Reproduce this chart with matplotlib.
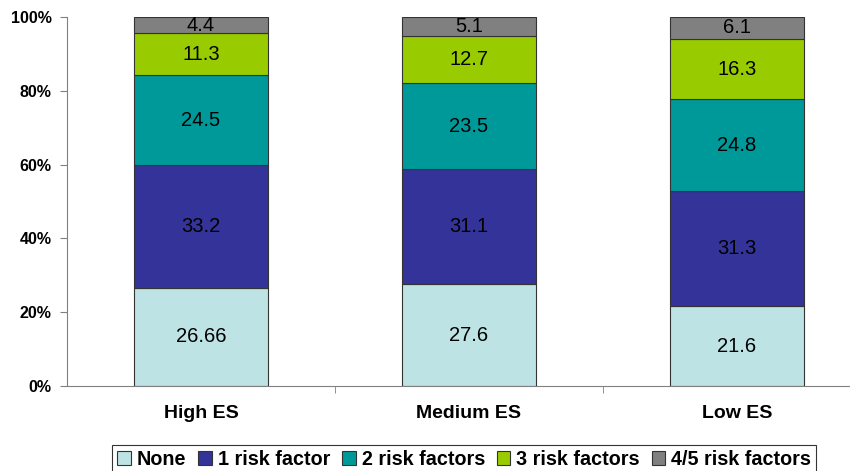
import numpy as np
import matplotlib.pyplot as plt
from matplotlib.ticker import FixedLocator, PercentFormatter

plt.rcParams['font.family'] = ['Liberation Sans', 'DejaVu Sans']

# Share of people by number of risk factors, per ES group
groups = ['High ES', 'Medium ES', 'Low ES']
series = ['None', '1 risk factor', '2 risk factors', '3 risk factors', '4/5 risk factors']
none = [26.6, 27.6, 21.6]
one_rf = [33.2, 31.1, 31.3]
two_rf = [24.5, 23.5, 24.8]
three_rf = [11.3, 12.7, 16.3]
four_five_rf = [4.4, 5.1, 6.1]
values = [none, one_rf, two_rf, three_rf, four_five_rf]
# printed labels (the first one appears with a stray digit)
labels = [['26.66', '27.6', '21.6'],
          ['33.2', '31.1', '31.3'],
          ['24.5', '23.5', '24.8'],
          ['11.3', '12.7', '16.3'],
          ['4.4', '5.1', '6.1']]
colors = ['#BDE3E5', '#333399', '#009999', '#99CC00', '#808080']

fig = plt.figure(figsize=(8.5, 4.71), dpi=100)
ax = fig.add_axes([0.0788, 0.1805, 0.93, 0.7834])

x = np.arange(len(groups))
bottom = np.zeros(len(groups))
for vals, lab, col, name in zip(values, labels, colors, series):
    vals = np.array(vals)
    ax.bar(x, vals, 0.5, bottom=bottom, color=col, edgecolor='#333333',
           linewidth=0.8, label=name)
    for xi, b, v, t in zip(x, bottom, vals, lab):
        ax.text(xi, b + v / 2, t, ha='center', va='center', fontsize=14.5,
                color='black')
    bottom += vals

ax.set_xlim(-0.5, 2.45)
ax.set_ylim(0, 100)
ax.yaxis.set_major_locator(FixedLocator([0, 20, 40, 60, 80, 100]))
ax.yaxis.set_major_formatter(PercentFormatter(decimals=0))
ax.tick_params(axis='y', length=5, color='#808080', labelsize=11.5, pad=6)
for t in ax.get_yticklabels():
    t.set_fontweight('bold')

ax.set_xticks(x)
ax.set_xticklabels(groups, fontsize=14, fontweight='bold')
ax.tick_params(axis='x', which='major', length=0, pad=14)
ax.xaxis.set_minor_locator(FixedLocator([0.5, 1.5]))
ax.tick_params(axis='x', which='minor', length=5, color='#808080')

for s in ['top', 'right']:
    ax.spines[s].set_visible(False)
for s in ['left', 'bottom']:
    ax.spines[s].set_color('#808080')

leg = fig.legend(loc='upper center', bbox_to_anchor=(0.546, 0.056), ncol=5,
                 frameon=True, fancybox=False, edgecolor='black',
                 prop={'weight': 'bold', 'size': 14.2},
                 handlelength=0.7, handleheight=0.7, handletextpad=0.3,
                 columnspacing=0.6, borderpad=0.25, borderaxespad=0)
leg.get_frame().set_linewidth(0.8)

fig.savefig('out.png', dpi=100)
